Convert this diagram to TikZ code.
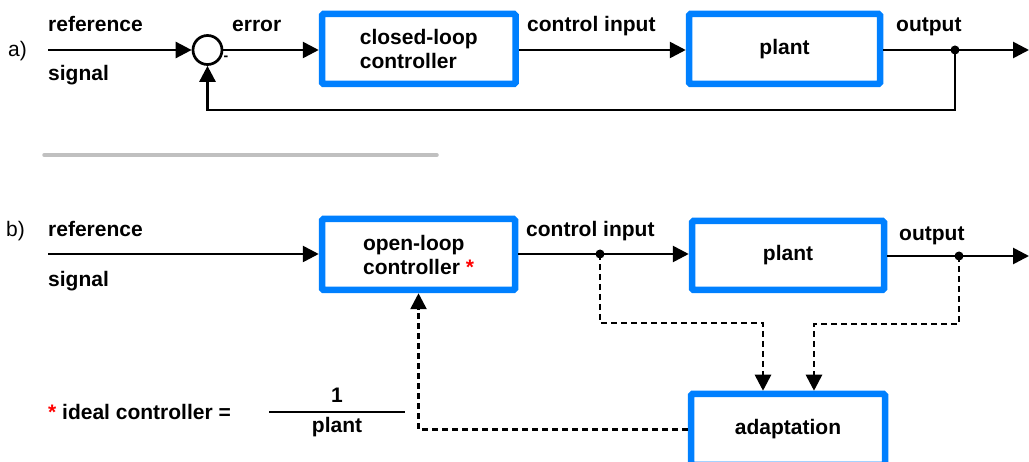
\documentclass[tikz,border=0pt]{standalone}
\usepackage{fontspec}
\setmainfont{Liberation Sans}
\usetikzlibrary{arrows.meta,calc}
\definecolor{boxblue}{RGB}{0,128,255}
\definecolor{rulegray}{RGB}{192,192,192}
\definecolor{starred}{RGB}{255,0,0}

\begin{document}
\begin{tikzpicture}[x=1pt,y=-1pt,
  every node/.style={font=\fontsize{21}{24}\selectfont\bfseries, inner sep=0pt},
  blockbox/.style={draw=boxblue, line width=6.5pt, fill=white, rounded corners=1.5pt, align=left},
  sig/.style={line width=2.7pt, -{Triangle[length=16pt,width=16pt]}},
  wire/.style={line width=2.7pt},
  dashsig/.style={line width=2.7pt, dash pattern=on 6pt off 4pt, -{Triangle[length=16pt,width=16pt]}},
  lbl/.style={anchor=base west},
  tag/.style={anchor=base west, font=\fontsize{21}{24}\selectfont}
]
\useasboundingbox (0,0) rectangle (1029,462);
\clip (0,0) rectangle (1029,462);

% ---------------- a) closed loop ----------------
\node[tag] (taga) at (8,57) {a)};
\node[lbl] (refa) at (48,31.5) {reference};
\node[lbl] (siga) at (48,81) {signal};
\coordinate (ina) at (48,50);
\node[circle, draw, line width=2.7pt, minimum size=29pt] (sum) at (207.5,50) {};
\node[font=\fontsize{14}{16}\selectfont\bfseries] (minus) at (226,58) {-};
\node[lbl] (err) at (232,31.5) {error};
\node[blockbox, minimum width=193.5pt, minimum height=70pt] (cla) at (418.75,49) {closed-loop\\controller};
\node[lbl] (cia) at (527,32) {control input};
\node[blockbox, minimum width=191pt, minimum height=70pt] (planta) at (784.5,49) {plant};
\node[lbl] (outa) at (896,32) {output};
\coordinate (ja) at (955,50);
\coordinate (enda) at (1029,50);
\coordinate (fb) at (207.5,110);

\draw[sig] (ina) -- (sum.west);
\draw[sig] (sum.east) -- (cla.west |- sum.east);
\draw[sig] (cla.east |- ina) -- (planta.west |- ina);
\draw[sig] (planta.east |- ina) -- (enda);
\draw[sig] (ja) |- (fb) -- (sum.south);
\fill (ja) circle (4.5pt);

% separator
\coordinate (sepl) at (44,155);
\coordinate (sepr) at (437,155);
\draw[rulegray, line width=3.5pt, line cap=round] (sepl) -- (sepr);

% ---------------- b) open loop with adaptation ----------------
\node[tag] (tagb) at (6,237) {b)};
\node[lbl] (refb) at (48,236.5) {reference};
\node[lbl] (sigb) at (48,287) {signal};
\coordinate (inb) at (48,254);
\node[blockbox, minimum width=193pt, minimum height=71pt] (olb) at (418.5,254.5) {open-loop\\controller {\color{starred}*}};
\node[lbl] (cib) at (526,237) {control input};
\node[blockbox, minimum width=192pt, minimum height=69pt] (plantb) at (788,255.5) {plant};
\node[lbl] (outb) at (899,241) {output};
\node[blockbox, minimum width=194pt, minimum height=71pt] (adapt) at (788,429.5) {adaptation};
\coordinate (jb1) at (600,254);
\coordinate (jb2) at (959,256);
\coordinate (endb) at (1029,256);
\coordinate (bend1) at (763,323);
\coordinate (bend2) at (814,324);

\draw[sig] (inb) -- (olb.west |- inb);
\draw[sig] (olb.east |- inb) -- (plantb.west |- inb);
\draw[sig] (plantb.east |- endb) -- (endb);
\draw[dashsig] (jb1) |- (bend1) -- (bend1 |- adapt.north);
\draw[dashsig] (jb2) |- (bend2) -- (bend2 |- adapt.north);
\draw[dashsig] (adapt.west) -| (olb.south);
\fill (jb1) circle (4.5pt);
\fill (jb2) circle (4.5pt);

% ideal controller note
\node[lbl] (ideal) at (48,420) {{\color{starred}*} ideal controller =};
\node[anchor=base] (one) at (337,403) {1};
\node[anchor=base] (den) at (337,433) {plant};
\coordinate (fracl) at (269,412);
\coordinate (fracr) at (405,412);
\draw[wire] (fracl) -- (fracr);
\end{tikzpicture}
\end{document}
